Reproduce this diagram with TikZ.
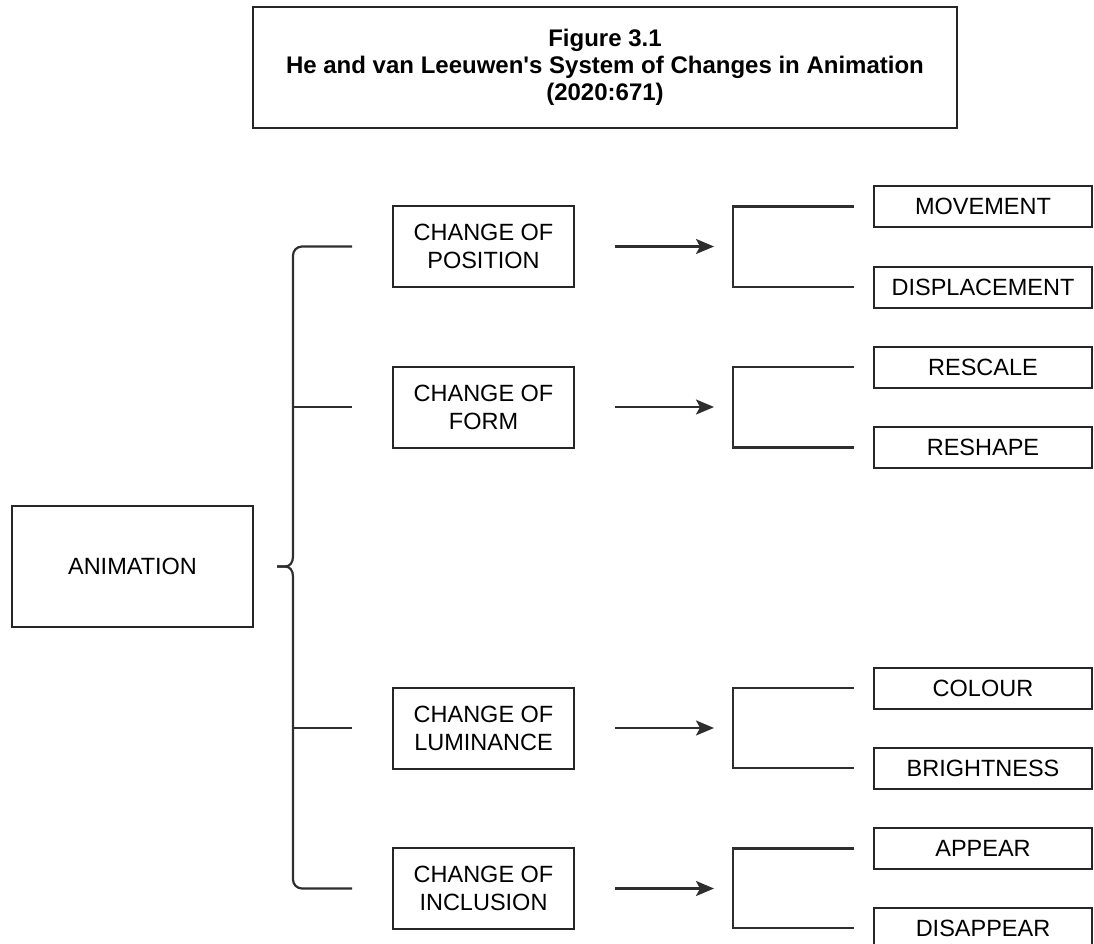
\documentclass[tikz,border=0pt]{standalone}
\usepackage{fontspec}
\setmainfont{Liberation Sans}[Ligatures=TeXOff]
\usetikzlibrary{arrows.meta}
\begin{document}
\begin{tikzpicture}[x=1pt,y=-1pt,
  box/.style={draw=black!85,line width=2pt,inner sep=0pt,align=center,
    font=\fontsize{23.5}{28}\selectfont},
  midbox/.style={box,minimum width=181pt,minimum height=81pt},
  leaf/.style={box,minimum width=218pt,minimum height=41pt},
  conn/.style={draw=black!82,line width=2.2pt},
  arr/.style={conn,-{Stealth[length=18pt,width=15pt,inset=4pt]}}]
\useasboundingbox (0,0) rectangle (1094,944);
% title
\node[box,minimum width=704pt,minimum height=121pt,
  font=\bfseries\fontsize{24}{26.8}\selectfont] (title) at (605,67.5)
  {Figure 3.1\\He and van Leeuwen's System of Changes in Animation\\(2020:671)};
% root
\node[box,minimum width=241pt,minimum height=121pt] (anim) at (132.5,566.5) {ANIMATION};
% middle boxes
\node[midbox] (pos)  at (483.5,246.5) {CHANGE OF\\POSITION};
\node[midbox] (form) at (483.5,407)   {CHANGE OF\\FORM};
\node[midbox] (lum)  at (483.5,728)   {CHANGE OF\\LUMINANCE};
\node[midbox] (incl) at (483.5,888.5) {CHANGE OF\\INCLUSION};
% leaves
\node[leaf] (mov)  at (983,206.5) {MOVEMENT};
\node[leaf] (disp) at (983,287)   {DISPLACEMENT};
\node[leaf] (resc) at (983,367)   {RESCALE};
\node[leaf] (resh) at (983,447.5) {RESHAPE};
\node[leaf] (col)  at (983,688)   {COLOUR};
\node[leaf] (bri)  at (983,768)   {BRIGHTNESS};
\node[leaf] (app)  at (983,848.5) {APPEAR};
\node[leaf] (dis)  at (983,928)   {DISAPPEAR};
% brace
\coordinate (tip) at ([xshift=23pt]anim.east);
\coordinate (bx) at (292,567);
\draw[conn] (tip) -- ++(8,0) .. controls +(5,0) and +(0,6) .. ++(8,-10)
  [rounded corners=9pt] |- ([xshift=-40pt]pos.west);
\draw[conn] (tip) -- ++(8,0) .. controls +(5,0) and +(0,-6) .. ++(8,10)
  [rounded corners=9pt] |- ([xshift=-40pt]incl.west);
\draw[conn] (bx |- form.west) -- ([xshift=-40pt]form.west);
\draw[conn] (bx |- lum.west) -- ([xshift=-40pt]lum.west);
% arrows and brackets
\foreach \m/\a/\b in {pos/mov/disp, form/resc/resh, lum/col/bri, incl/app/dis}{
  \draw[arr] ([xshift=40pt]\m.east) -- ([xshift=139pt]\m.east);
  \draw[conn] ([xshift=-19pt]\a.west) -| ([xshift=-140pt]\a.west)
     |- ([xshift=-19pt]\b.west);
}
\end{tikzpicture}
\end{document}
